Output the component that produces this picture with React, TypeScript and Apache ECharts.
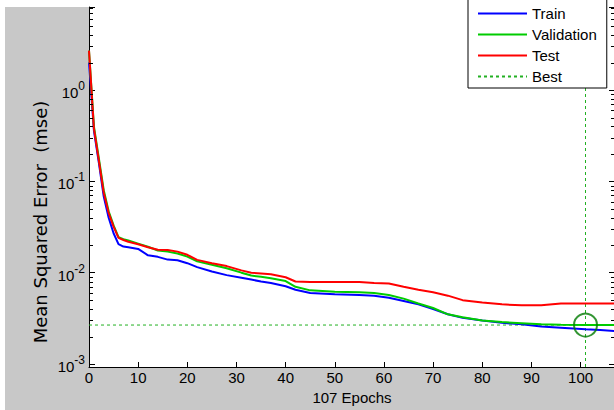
import React, { useEffect, useRef } from 'react';
import * as echarts from 'echarts';

const epochs = [0, 1, 2, 3, 4, 5, 6, 7, 8, 10, 12, 14, 16, 18, 20, 22, 25, 28, 31, 33, 35, 37, 40, 42, 45, 50, 55, 58, 61, 64, 67, 70, 73, 76, 80, 84, 88, 92, 96, 101, 104, 107];

const trainMse = [2.0, 0.36, 0.16, 0.068, 0.04, 0.027, 0.0205, 0.0193, 0.019, 0.0182, 0.0155, 0.0149, 0.0139, 0.0137, 0.0127, 0.0115, 0.0103, 0.0094, 0.0088, 0.0084, 0.008, 0.0077, 0.0071, 0.0065, 0.006, 0.0058, 0.0057, 0.0056, 0.0053, 0.0049, 0.0045, 0.004, 0.0035, 0.0032, 0.003, 0.00283, 0.00272, 0.00258, 0.0025, 0.0024, 0.00235, 0.00229];

const valMse = [2.7, 0.4, 0.18, 0.08, 0.047, 0.033, 0.0245, 0.0233, 0.0225, 0.0208, 0.0192, 0.0175, 0.017, 0.0162, 0.015, 0.0133, 0.0122, 0.0112, 0.01, 0.0093, 0.009, 0.0087, 0.0081, 0.007, 0.0064, 0.0062, 0.0061, 0.006, 0.0057, 0.0052, 0.0046, 0.0041, 0.0035, 0.00325, 0.003, 0.00288, 0.0028, 0.00272, 0.00269, 0.00267, 0.00267, 0.00267];

const testMse = [2.7, 0.38, 0.17, 0.075, 0.045, 0.032, 0.024, 0.0228, 0.0218, 0.0205, 0.019, 0.0178, 0.0177, 0.017, 0.0157, 0.0138, 0.0127, 0.0118, 0.0106, 0.01, 0.0098, 0.0096, 0.0089, 0.008, 0.0079, 0.0079, 0.0079, 0.0077, 0.0076, 0.007, 0.0065, 0.0061, 0.0056, 0.005, 0.0047, 0.0045, 0.00439, 0.00439, 0.0046, 0.0046, 0.0046, 0.0046];

const seriesNames = ['Train', 'Validation', 'Test', 'Best'];
const bestEpoch = 101;
const bestMse = 0.00267;
const xMin = 0;
const xMax = 107;
const xInterval = 10;
const yMin = 0.000927;
const yMax = 8.11;
const yDecades = [-3, -2, -1, 0];
const minorMantissas = [2, 3, 4, 5, 6, 7, 8, 9];
const xAxisTitle = '107 Epochs';
const yAxisTitle = 'Mean Squared Error  (mse)';

export default function App() {
  const ref = useRef<HTMLDivElement>(null);

  useEffect(() => {
    if (!ref.current) return;
    const chart = echarts.init(ref.current, null, { renderer: 'svg' });
    const font = 'Liberation Sans, Arial, Helvetica, sans-serif';
    const pairs = (vals: number[]) => epochs.map((e, i) => [e, vals[i]]);
    const bestColor = '#22b022';
    const bestDash = { color: bestColor, width: 1, type: [3, 3] };

    const minorTicks: number[] = [];
    yDecades.forEach((d) => {
      minorMantissas.forEach((m) => {
        const v = m * Math.pow(10, d);
        if (v > yMin && v < yMax) minorTicks.push(v);
      });
    });

    const yLabelFormatter = (v: number) => {
      const lg = Math.log10(v);
      const p = Math.round(lg);
      if (Math.abs(lg - p) > 1e-6) return '';
      return `{b|10}{s|${p}}`;
    };

    const option: any = {
      animation: false,
      backgroundColor: '#c8c8c8',
      textStyle: { fontFamily: font },
      graphic: [
        { type: 'rect', shape: { x: 0, y: 0, width: 700, height: 7 }, style: { fill: '#ffffff' }, silent: true },
        { type: 'rect', shape: { x: 0, y: 0, width: 5, height: 420 }, style: { fill: '#ffffff' }, silent: true },
        {
          type: 'text',
          x: 40,
          y: 222,
          rotation: Math.PI / 2,
          silent: true,
          style: {
            text: yAxisTitle,
            fontSize: 18,
            fontFamily: 'DejaVu Sans, Liberation Sans, sans-serif',
            fill: '#000',
            align: 'center',
            verticalAlign: 'middle',
          },
        },
      ],
      grid: {
        left: 89,
        top: 7,
        right: 9,
        bottom: 43,
        show: true,
        backgroundColor: '#ffffff',
        borderWidth: 0,
      },
      legend: {
        data: seriesNames,
        orient: 'vertical',
        left: 468,
        top: -4,
        itemWidth: 49,
        itemHeight: 14,
        itemGap: 6,
        padding: [10, 10, 4, 9],
        backgroundColor: '#ffffff',
        borderColor: '#000000',
        borderWidth: 1,
        borderRadius: 0,
        itemStyle: { opacity: 0 },
        textStyle: { fontSize: 15, color: '#000', fontFamily: font },
      },
      xAxis: {
        type: 'value',
        min: xMin,
        max: xMax,
        interval: xInterval,
        name: xAxisTitle,
        nameLocation: 'middle',
        nameGap: 22,
        nameTextStyle: { fontSize: 15, color: '#000', fontFamily: font },
        axisLine: { show: true, lineStyle: { color: '#000', width: 1 } },
        axisTick: { show: true, inside: true, length: 5, lineStyle: { color: '#000' } },
        axisLabel: {
          fontSize: 15,
          color: '#000',
          margin: 3,
          fontFamily: font,
          showMaxLabel: false,
          formatter: (v: number) => (v % xInterval === 0 ? String(v) : ''),
        },
        splitLine: { show: false },
      },
      yAxis: [
        {
          type: 'log',
          logBase: 10,
          min: yMin,
          max: yMax,
          axisLine: { show: true, lineStyle: { color: '#000', width: 1 } },
          axisTick: { show: true, inside: true, length: 6, lineStyle: { color: '#000' } },
          axisLabel: {
            color: '#000',
            margin: 4,
            formatter: yLabelFormatter,
            rich: {
              b: { fontSize: 15, fontFamily: font, color: '#000', verticalAlign: 'bottom' },
              s: { fontSize: 12, fontFamily: font, color: '#000', verticalAlign: 'bottom', padding: [0, 0, 8, 0] },
            },
          },
          splitLine: { show: false },
        },
        {
          type: 'log',
          logBase: 10,
          min: yMin,
          max: yMax,
          position: 'right',
          axisLine: { show: true, lineStyle: { color: '#000', width: 1 } },
          axisTick: { show: true, inside: true, length: 6, lineStyle: { color: '#000' } },
          axisLabel: { show: false },
          splitLine: { show: false },
        },
      ],
      series: [
        {
          name: 'Best',
          type: 'line',
          data: [[xMin, bestMse], [xMax, bestMse]],
          symbol: 'none',
          color: bestColor,
          lineStyle: bestDash,
          z: 2,
        },
        {
          name: 'BestEpoch',
          type: 'line',
          data: [[bestEpoch, yMin], [bestEpoch, yMax]],
          symbol: 'none',
          color: bestColor,
          lineStyle: bestDash,
          z: 2,
        },
        {
          name: 'Train',
          type: 'line',
          data: pairs(trainMse),
          symbol: 'none',
          color: '#0000ff',
          lineStyle: { color: '#0000ff', width: 2 },
          z: 3,
        },
        {
          name: 'Validation',
          type: 'line',
          data: pairs(valMse),
          symbol: 'none',
          color: '#00cc00',
          lineStyle: { color: '#00cc00', width: 2 },
          z: 4,
        },
        {
          name: 'Test',
          type: 'line',
          data: pairs(testMse),
          symbol: 'none',
          color: '#ff0000',
          lineStyle: { color: '#ff0000', width: 2 },
          z: 5,
        },
        {
          name: 'BestPoint',
          type: 'scatter',
          data: [[bestEpoch, bestMse]],
          symbol: 'circle',
          symbolSize: 23,
          silent: true,
          itemStyle: { color: 'rgba(0,0,0,0)', borderColor: '#007a00', borderWidth: 2 },
          z: 6,
        },
        {
          name: 'minorTicks',
          type: 'custom',
          silent: true,
          clip: false,
          data: minorTicks.map((v) => [xMin, v]),
          renderItem: (params: any, api: any) => {
            const cs = params.coordSys;
            const y = Math.round(api.coord([xMin, api.value(1)])[1]) + 0.5;
            const st = { stroke: '#000', lineWidth: 1 };
            return {
              type: 'group',
              children: [
                { type: 'line', shape: { x1: cs.x, y1: y, x2: cs.x + 4, y2: y }, style: st },
                { type: 'line', shape: { x1: cs.x + cs.width - 4, y1: y, x2: cs.x + cs.width, y2: y }, style: st },
              ],
            };
          },
          z: 7,
        },
      ],
    };

    chart.setOption(option);
    return () => chart.dispose();
  }, []);

  return (
    <div style={{ position: 'fixed', left: 0, top: 0, width: 614, height: 410, overflow: 'hidden', background: '#fff' }}>
      <div ref={ref} style={{ width: 624, height: 410 }} />
    </div>
  );
}
